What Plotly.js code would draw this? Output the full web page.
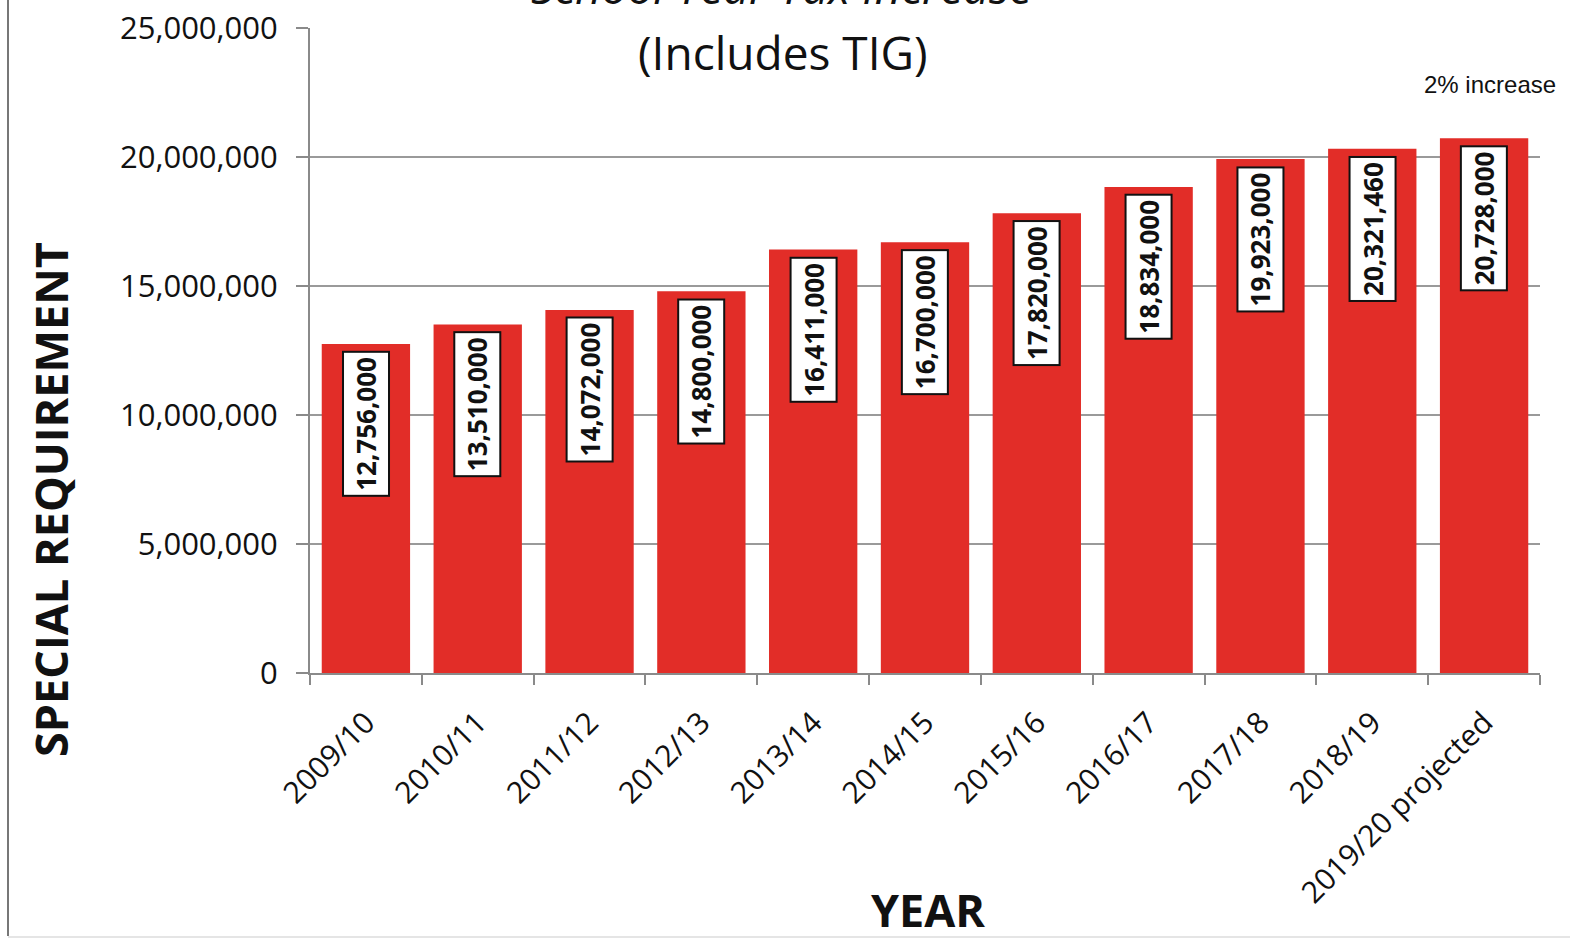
<!DOCTYPE html>
<html>
<head>
<meta charset="utf-8">
<script src="https://cdn.plot.ly/plotly-3.0.1.min.js"></script>
<style>html,body{margin:0;padding:0;background:#fff;}#chart{width:1570px;height:940px;}</style>
</head>
<body>
<div id="chart"></div>
<script>
const years = ["2009/10","2010/11","2011/12","2012/13","2013/14","2014/15","2015/16","2016/17","2017/18","2018/19","2019/20 projected"];
const specialRequirement = [12756000,13510000,14072000,14800000,16411000,16700000,17820000,18834000,19923000,20321460,20728000];
const yTicks = [0,5000000,10000000,15000000,20000000,25000000];
const yTickLabels = ["0","5,000,000","10,000,000","15,000,000","20,000,000","25,000,000"];

const FONT = "Open Sans, Noto Sans, sans-serif";
const L = 310, R = 30, T = 28, B = 267, W = 1570, H = 940;
const pw = W - L - R, ph = H - T - B;
const px = x => (x - L) / pw;
const py = y => (H - B - y) / ph;

const trace = {
  type: "bar",
  x: years,
  y: specialRequirement,
  marker: {color: "#e22d28", line: {width: 0}},
  hoverinfo: "x+y"
};

const labelAnns = years.map((c, i) => ({
  x: c, y: specialRequirement[i], xref: "x", yref: "y",
  text: specialRequirement[i].toLocaleString("en-US"),
  textangle: -90, showarrow: false,
  yanchor: "top", yshift: -7,
  bgcolor: "#ffffff", bordercolor: "#111111", borderwidth: 2, borderpad: 4,
  font: {family: FONT, size: 26, color: "#111", weight: "bold"}
}));

const layout = {
  width: W, height: H,
  margin: {l: L, r: R, t: T, b: B},
  paper_bgcolor: "#fff", plot_bgcolor: "#fff",
  showlegend: false,
  bargap: 0.21,
  xaxis: {
    type: "category",
    tickson: "boundaries",
    ticks: "outside", ticklen: 10, tickwidth: 2, tickcolor: "#8a8a8a",
    showline: true, linecolor: "#8a8a8a", linewidth: 2,
    showgrid: false,
    tickangle: -45,
    ticklabelstandoff: 18,
    tickfont: {family: FONT, size: 30, color: "#111"}
  },
  yaxis: {
    range: [0, 25000000],
    tickmode: "array", tickvals: yTicks, ticktext: yTickLabels,
    ticks: "outside", ticklen: 12, tickwidth: 1.5, tickcolor: "#8a8a8a",
    showline: true, linecolor: "#8a8a8a", linewidth: 2,
    showgrid: true, gridcolor: "#9a9a9a", gridwidth: 1.5,
    zeroline: false,
    ticklabelstandoff: 12,
    tickfont: {family: FONT, size: 31, color: "#111"}
  },
  annotations: labelAnns.concat([
    {xref: "paper", yref: "paper", x: px(781), y: py(19), xanchor: "center", yanchor: "bottom",
     text: "School Year Tax Increase", showarrow: false,
     font: {family: FONT, size: 46, color: "#111", style: "italic"}},
    {xref: "paper", yref: "paper", x: px(783), y: py(52), xanchor: "center", yanchor: "middle",
     text: "(Includes TIG)", showarrow: false,
     font: {family: FONT, size: 46, color: "#111"}},
    {xref: "paper", yref: "paper", x: px(1558), y: py(84), xanchor: "right", yanchor: "middle",
     text: "2% increase", showarrow: false,
     font: {family: "Liberation Sans Narrow, Liberation Sans, Arial, sans-serif", size: 24, color: "#111"}},
    {xref: "paper", yref: "paper", x: px(50), y: py(500), xanchor: "center", yanchor: "middle",
     text: "SPECIAL REQUIREMENT", textangle: -90, showarrow: false,
     font: {family: FONT, size: 45, color: "#111", weight: "bold"}},
    {xref: "paper", yref: "paper", x: px(928), y: py(909), xanchor: "center", yanchor: "middle",
     text: "YEAR", showarrow: false,
     font: {family: FONT, size: 45, color: "#111", weight: "bold"}}
  ]),
  shapes: [
    {type: "line", xref: "paper", yref: "paper", x0: px(8), x1: px(8), y0: py(0), y1: py(936),
     line: {color: "#777", width: 2}},
    {type: "line", xref: "paper", yref: "paper", x0: px(8), x1: px(1570), y0: py(937), y1: py(937),
     line: {color: "#ddd", width: 1.5}}
  ]
};

Plotly.newPlot("chart", [trace], layout, {displayModeBar: false, staticPlot: true});
</script>
</body>
</html>
